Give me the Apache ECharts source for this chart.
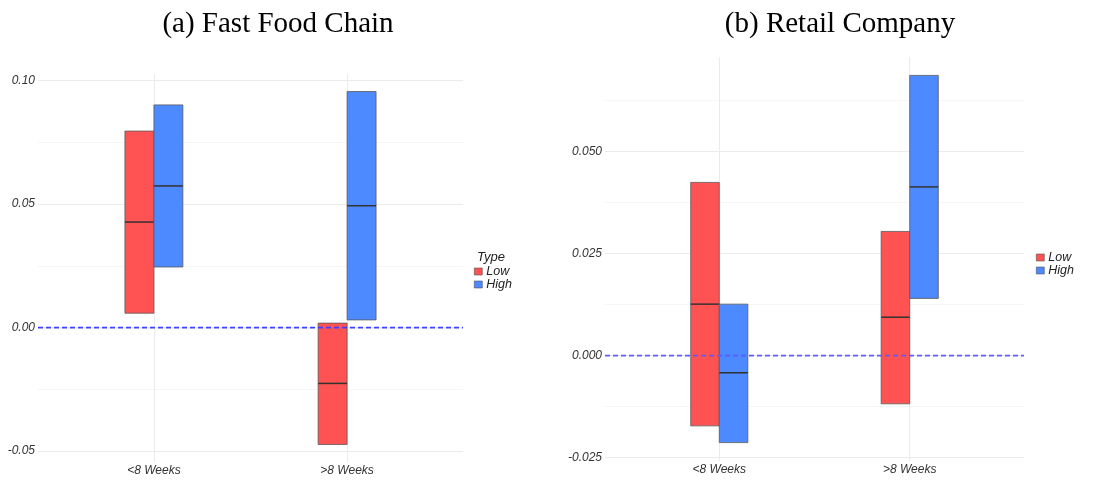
<!DOCTYPE html>
<html>
<head>
<meta charset="utf-8">
<script src="https://cdn.jsdelivr.net/npm/echarts@6/dist/echarts.min.js"></script>
<style>
  html, body { margin: 0; padding: 0; background: #ffffff; }
  #chart { width: 1114px; height: 480px; }
</style>
</head>
<body>
<div id="chart"></div>
<script>
// categories on the x axis (positions 1 and 2 on a value axis, like ggplot's discrete scale)
const categories = ['<8 Weeks', '>8 Weeks'];
const catPos = [1, 2];

// each entry: [lower, median, upper]
const fastLow = [[0.0058, 0.0427, 0.0795], [-0.0473, -0.0226, 0.0018]];
const fastHigh = [[0.0245, 0.0573, 0.0901], [0.0031, 0.0493, 0.0955]];
const retailLow = [[-0.0172, 0.0126, 0.0424], [-0.0118, 0.0094, 0.0304]];
const retailHigh = [[-0.0213, -0.0042, 0.0126], [0.0140, 0.0413, 0.0686]];

// dashed reference level
const refLevel = 0;

// y tick labels (major) and grid lines (major + minor)
const fastTicks = [-0.05, 0.00, 0.05, 0.10];
const fastGrid = [-0.05, -0.025, 0, 0.025, 0.05, 0.075, 0.10];
const retailTicks = [-0.025, 0.000, 0.025, 0.050];
const retailGrid = [-0.025, -0.0125, 0, 0.0125, 0.025, 0.0375, 0.05, 0.0625];

const RED = '#ff5252';
const BLUE = '#4d89ff';
const BOX_W = 0.15; // dodge width of a box, in category units
const X_MIN = 0.4, X_MAX = 2.6;

const chart = echarts.init(document.getElementById('chart'), null, { renderer: 'canvas' });

const labelStyle = {
  fontFamily: 'Liberation Sans, Arial, sans-serif',
  fontStyle: 'italic',
  fontSize: 12,
  color: '#333333'
};

function toData(arr) {
  return arr.map((d, i) => [catPos[i], d[0], d[1], d[2]]);
}

function boxRenderer(side) {
  return function (params, api) {
    const x = api.value(0);
    const lo = api.value(1), mid = api.value(2), hi = api.value(3);
    const x0 = side < 0 ? x - BOX_W : x;
    const x1 = side < 0 ? x : x + BOX_W;
    const pTop = api.coord([x0, hi]);
    const pBot = api.coord([x1, lo]);
    const pMidL = api.coord([x0, mid]);
    const pMidR = api.coord([x1, mid]);
    const color = api.visual('color');
    return {
      type: 'group',
      children: [
        {
          type: 'rect',
          shape: { x: pTop[0], y: pTop[1], width: pBot[0] - pTop[0], height: pBot[1] - pTop[1] },
          style: { fill: color, stroke: '#5a5a5a', lineWidth: 0.8 }
        },
        {
          type: 'line',
          shape: { x1: pMidL[0], y1: pMidL[1], x2: pMidR[0], y2: pMidR[1] },
          style: { stroke: '#333333', lineWidth: 1.5 }
        }
      ]
    };
  };
}

function xAxisFor(gridIndex) {
  return {
    type: 'value',
    gridIndex: gridIndex,
    min: X_MIN,
    max: X_MAX,
    axisLine: { show: false, onZero: false },
    axisTick: { show: false, customValues: catPos },
    axisLabel: Object.assign({}, labelStyle, {
      margin: 3,
      customValues: catPos,
      formatter: v => categories[catPos.indexOf(Math.round(v))] || ''
    }),
    splitLine: { show: true, lineStyle: { color: '#ebebeb', width: 1 } }
  };
}

function yAxisFor(gridIndex, min, max, ticks, grid, digits) {
  return {
    type: 'value',
    gridIndex: gridIndex,
    min: min,
    max: max,
    axisLine: { show: false },
    axisTick: { show: false, customValues: grid },
    axisLabel: Object.assign({}, labelStyle, {
      margin: 3,
      customValues: ticks,
      formatter: v => {
        const hit = ticks.find(t => Math.abs(t - v) < 1e-9);
        return hit === undefined ? '' : hit.toFixed(digits);
      }
    }),
    splitLine: { show: true, lineStyle: { color: ['#ebebeb', '#f5f5f5'], width: 1 } }
  };
}

function boxSeries(name, color, side, arr, idx) {
  return {
    type: 'custom',
    name: name,
    xAxisIndex: idx,
    yAxisIndex: idx,
    itemStyle: { color: color },
    renderItem: boxRenderer(side),
    encode: { x: 0, y: [1, 2, 3] },
    data: toData(arr),
    z: 3
  };
}

// dashed horizontal reference line across the whole panel
function refSeries(idx, color, width) {
  return {
    type: 'custom',
    xAxisIndex: idx,
    yAxisIndex: idx,
    silent: true,
    z: 10,
    encode: { x: [0, 1], y: 2 },
    data: [[X_MIN, X_MAX, refLevel]],
    renderItem: function (params, api) {
      const a = api.coord([api.value(0), api.value(2)]);
      const b = api.coord([api.value(1), api.value(2)]);
      return {
        type: 'line',
        shape: { x1: a[0], y1: a[1], x2: b[0], y2: b[1] },
        style: { stroke: color, lineWidth: width, lineDash: [5, 3], fill: null }
      };
    }
  };
}

const legendBase = {
  orient: 'vertical',
  icon: 'rect',
  itemWidth: 8,
  itemHeight: 7,
  itemGap: 0,
  padding: 0,
  selectedMode: false,
  itemStyle: { borderColor: '#555555', borderWidth: 0.6 },
  textStyle: Object.assign({}, labelStyle, { fontSize: 12.5, color: '#222222', lineHeight: 11, padding: [0, 0, 0, -1] }),
  data: ['Low', 'High']
};

const titleFont = { fontFamily: 'Liberation Serif, Times New Roman, serif', fontSize: 29, fontWeight: 'normal', color: '#000' };

const option = {
  animation: false,
  backgroundColor: '#ffffff',
  title: [
    { text: '(a) Fast Food Chain', left: 273, top: 5, textAlign: 'center', textStyle: titleFont },
    { text: '(b) Retail Company', left: 835, top: 5, textAlign: 'center', textStyle: titleFont },
    {
      text: 'Type',
      left: 472, top: 246,
      textStyle: Object.assign({}, labelStyle, { fontSize: 13, fontWeight: 'normal', color: '#222222' })
    }
  ],
  legend: [
    Object.assign({}, legendBase, { left: 474, top: 265 }),
    Object.assign({}, legendBase, { left: 1036, top: 251 })
  ],
  grid: [
    { left: 38, right: 651, top: 74, bottom: 18 },
    { left: 605, right: 90, top: 57, bottom: 19 }
  ],
  xAxis: [xAxisFor(0), xAxisFor(1)],
  yAxis: [
    yAxisFor(0, -0.0544, 0.1026, fastTicks, fastGrid, 2),
    yAxisFor(1, -0.0258, 0.0731, retailTicks, retailGrid, 3)
  ],
  series: [
    boxSeries('Low', RED, -1, fastLow, 0),
    boxSeries('High', BLUE, 1, fastHigh, 0),
    boxSeries('Low', RED, -1, retailLow, 1),
    boxSeries('High', BLUE, 1, retailHigh, 1),
    refSeries(0, '#3f3fff', 1.7),
    refSeries(1, '#5c5cff', 1.6)
  ]
};

chart.setOption(option);
</script>
</body>
</html>
